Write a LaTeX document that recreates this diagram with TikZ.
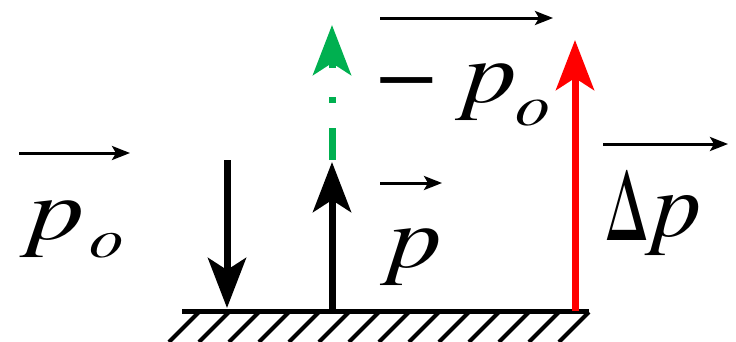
\documentclass[tikz,border=0pt]{standalone}
\usepackage{fontspec}
\newfontfamily\tnr{texgyretermes-regular.otf}
\newfontfamily\tnri{texgyretermes-italic.otf}
\usetikzlibrary{arrows.meta}
\definecolor{grn}{HTML}{00B050}
\newcommand\sglyph[3]{{\fontsize{#2}{#2}\selectfont\scalebox{#1}[1]{#3}}}
\begin{document}
\begin{tikzpicture}[x=1pt,y=-1pt,
  lbl/.style={inner sep=0pt,outer sep=0pt,anchor=base west},
  overarrow/.style={line width=3pt,-{Stealth[length=18pt,width=14pt,inset=4pt]}},
  bigarrow/.style={line width=7pt,-{Stealth[length=50pt,width=38pt,inset=12pt]}},
  groundline/.style={line width=5pt},
  hatch/.style={line width=4pt}]
\useasboundingbox (0,0) rectangle (736,341);
% ground
\coordinate (gL) at (182,311);
\coordinate (gR) at (589,311);
\draw[groundline] (gL) -- (gR);
\foreach \i in {0,...,13}
  \draw[hatch] ([xshift=-30*\i pt,yshift=-1pt]gR) -- ++(-30,30);
% vertical arrows
\coordinate (d1) at (227,160); \coordinate (d2) at (227,308);
\draw[bigarrow] (d1) -- (d2);
\coordinate (u1) at (332,311); \coordinate (u2) at (332,162);
\draw[bigarrow] (u1) -- (u2);
\coordinate (g1) at (332,160); \coordinate (g2) at (332,25);
\draw[bigarrow,grn,dash pattern=on 32pt off 25pt on 6pt off 29pt on 300pt] (g1) -- (g2);
\coordinate (r1) at (575,311); \coordinate (r2) at (575,40);
\draw[bigarrow,red] (r1) -- (r2);
% labels
\node[lbl] (pL) at (28,239) {\sglyph{1.28}{88}{\tnri p}};
\node[lbl] (oL) at (89,257.5) {\sglyph{1.25}{55}{\tnri o}};
\coordinate (aL1) at (19,153); \coordinate (aL2) at (130,153);
\draw[overarrow] (aL1) -- (aL2);

\node[lbl] (pM) at (388,267) {\sglyph{1.22}{88}{\tnri p}};
\coordinate (aM1) at (380,183); \coordinate (aM2) at (442,183);
\draw[overarrow] (aM1) -- (aM2);

\node[lbl] (mT) at (376,102) {\sglyph{1.22}{88}{\tnr −}};
\node[lbl] (pT) at (463,102) {\sglyph{1.22}{88}{\tnri p}};
\node[lbl] (oT) at (515,125) {\sglyph{1.2}{58}{\tnri o}};
\coordinate (aT1) at (380,18); \coordinate (aT2) at (553,18);
\draw[overarrow] (aT1) -- (aT2);

\node[lbl] (dR) at (605,240) {\sglyph{0.68}{96}{\tnr Δ}};
\node[lbl] (pR) at (652,236) {\sglyph{1.06}{93}{\tnri p}};
\coordinate (aR1) at (603,144); \coordinate (aR2) at (728,144);
\draw[overarrow] (aR1) -- (aR2);
\end{tikzpicture}
\end{document}
